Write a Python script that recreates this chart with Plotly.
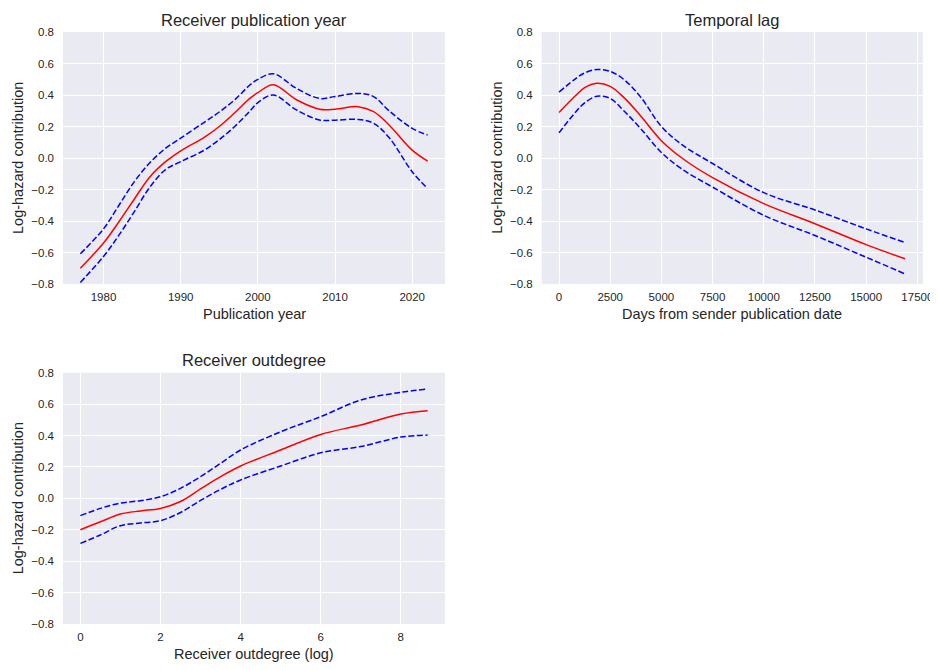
import plotly.graph_objects as go

# Panel 1: Receiver publication year
year_x = [1977, 1980, 1982, 1984, 1986, 1988, 1990, 1993, 1995, 1997, 1999, 2000, 2002, 2005, 2008, 2010, 2013, 2015, 2017, 2020, 2022]
year_fit = [-0.70, -0.54, -0.405, -0.26, -0.12, -0.025, 0.046, 0.13, 0.20, 0.287, 0.38, 0.415, 0.465, 0.37, 0.31, 0.31, 0.326, 0.294, 0.21, 0.05, -0.02]
year_up = [-0.608, -0.45, -0.30, -0.15, -0.03, 0.06, 0.126, 0.225, 0.292, 0.37, 0.465, 0.499, 0.535, 0.442, 0.378, 0.39, 0.41, 0.39, 0.30, 0.188, 0.146]
year_lo = [-0.79, -0.625, -0.49, -0.34, -0.185, -0.075, -0.023, 0.048, 0.117, 0.20, 0.30, 0.352, 0.40, 0.305, 0.241, 0.24, 0.245, 0.22, 0.13, -0.087, -0.194]

# Panel 2: Temporal lag
lag_x = [0, 800, 1250, 1850, 2500, 3200, 4000, 5000, 6000, 7500, 10000, 12500, 15000, 16900]
lag_fit = [0.289, 0.395, 0.447, 0.475, 0.455, 0.38, 0.265, 0.11, 0.0, -0.125, -0.29, -0.417, -0.55, -0.64]
lag_up = [0.418, 0.503, 0.54, 0.562, 0.55, 0.495, 0.385, 0.2, 0.085, -0.035, -0.22, -0.33, -0.45, -0.537]
lag_lo = [0.16, 0.29, 0.35, 0.392, 0.378, 0.295, 0.185, 0.035, -0.07, -0.185, -0.364, -0.492, -0.63, -0.736]

# Panel 3: Receiver outdegree
deg_x = [0, 0.5, 1, 1.5, 2, 2.5, 3, 3.5, 4, 5, 6, 7, 8, 8.67]
deg_fit = [-0.20, -0.149, -0.10, -0.08, -0.064, -0.02, 0.06, 0.138, 0.206, 0.308, 0.407, 0.467, 0.537, 0.558]
deg_up = [-0.11, -0.064, -0.03, -0.015, 0.01, 0.064, 0.138, 0.223, 0.308, 0.424, 0.52, 0.626, 0.675, 0.696]
deg_lo = [-0.287, -0.233, -0.174, -0.157, -0.142, -0.09, -0.013, 0.057, 0.117, 0.206, 0.29, 0.33, 0.39, 0.403]

titles = ["Receiver publication year", "Temporal lag", "Receiver outdegree"]
xlabels = ["Publication year", "Days from sender publication date", "Receiver outdegree (log)"]
ylabel = "Log-hazard contribution"
y_ticks = [-0.8, -0.6, -0.4, -0.2, 0.0, 0.2, 0.4, 0.6, 0.8]
y_ticktext = ["\u22120.8", "\u22120.6", "\u22120.4", "\u22120.2", "0.0", "0.2", "0.4", "0.6", "0.8"]
x_ticks = [[1980, 1990, 2000, 2010, 2020],
           [0, 2500, 5000, 7500, 10000, 12500, 15000, 17500],
           [0, 2, 4, 6, 8]]
x_ticktext = [[str(v) for v in t] for t in x_ticks]

# page body has an 8px margin, so the figure is drawn 8px in from the window edge
OFF = 8
W, H = 938 - OFF, 670 - OFF
boxes = [(63, 445, 32, 284), (541.7, 923, 32, 284), (63, 445, 372.7, 624)]
boxes = [(a - OFF, b - OFF, c - OFF, d - OFF) for a, b, c, d in boxes]
xranges = [[1974.75, 2024.25], [-846, 17776], [-0.4335, 9.1035]]

data = [(year_x, year_fit, year_up, year_lo),
        (lag_x, lag_fit, lag_up, lag_lo),
        (deg_x, deg_fit, deg_up, deg_lo)]

fig = go.Figure()
FONT = "Liberation Sans, Arial, sans-serif"
TXT = "#262626"

for i, (xs, fit, up, lo) in enumerate(data):
    xa = "x" if i == 0 else f"x{i+1}"
    ya = "y" if i == 0 else f"y{i+1}"
    for ys, col, dash in [(up, "blue", "6px,2.5px"), (lo, "blue", "6px,2.5px"), (fit, "red", "solid")]:
        fig.add_trace(go.Scatter(x=xs, y=ys, mode="lines", xaxis=xa, yaxis=ya,
                                 line=dict(color=col, width=1.5, dash=dash, shape="spline", smoothing=1.0),
                                 showlegend=False, hoverinfo="skip"))

layout = dict(width=W, height=H, margin=dict(l=0, r=0, t=0, b=0, autoexpand=False),
              paper_bgcolor="white", plot_bgcolor="#EAEAF2",
              font=dict(family=FONT, color=TXT), showlegend=False)

annotations = []
for i, (x0, x1, y0, y1) in enumerate(boxes):
    sx = "" if i == 0 else str(i + 1)
    layout["xaxis" + sx] = dict(domain=[x0 / W, x1 / W], range=xranges[i],
                                tickvals=x_ticks[i], ticktext=x_ticktext[i],
                                anchor="y" + sx, showgrid=True, gridcolor="white", gridwidth=1,
                                zeroline=False, showline=False, ticks="", automargin=False,
                                ticklabelstandoff=4,
                                tickfont=dict(size=11.5, color=TXT, family=FONT))
    layout["yaxis" + sx] = dict(domain=[1 - y1 / H, 1 - y0 / H], range=[-0.8, 0.8],
                                tickvals=y_ticks, ticktext=y_ticktext,
                                anchor="x" + sx, showgrid=True, gridcolor="white",
                                gridwidth=1, zeroline=False, showline=False, ticks="", automargin=False,
                                ticklabelstandoff=8,
                                tickfont=dict(size=11.5, color=TXT, family=FONT))
    cx = (x0 + x1) / 2 / W
    annotations.append(dict(text=titles[i], x=cx, y=1 - (y0 - 12.5) / H, xref="paper", yref="paper",
                            showarrow=False, xanchor="center", yanchor="middle",
                            font=dict(size=16.5, color=TXT, family=FONT)))
    annotations.append(dict(text=xlabels[i], x=cx, y=1 - (y1 + 30) / H, xref="paper", yref="paper",
                            showarrow=False, xanchor="center", yanchor="middle",
                            font=dict(size=14.5, color=TXT, family=FONT)))
    annotations.append(dict(text=ylabel, x=(x0 - 45) / W, y=1 - (y0 + y1) / 2 / H, xref="paper", yref="paper",
                            showarrow=False, xanchor="center", yanchor="middle", textangle=-90,
                            font=dict(size=14.5, color=TXT, family=FONT)))

layout["annotations"] = annotations
fig.update_layout(**layout)
fig.write_html("out.html")
